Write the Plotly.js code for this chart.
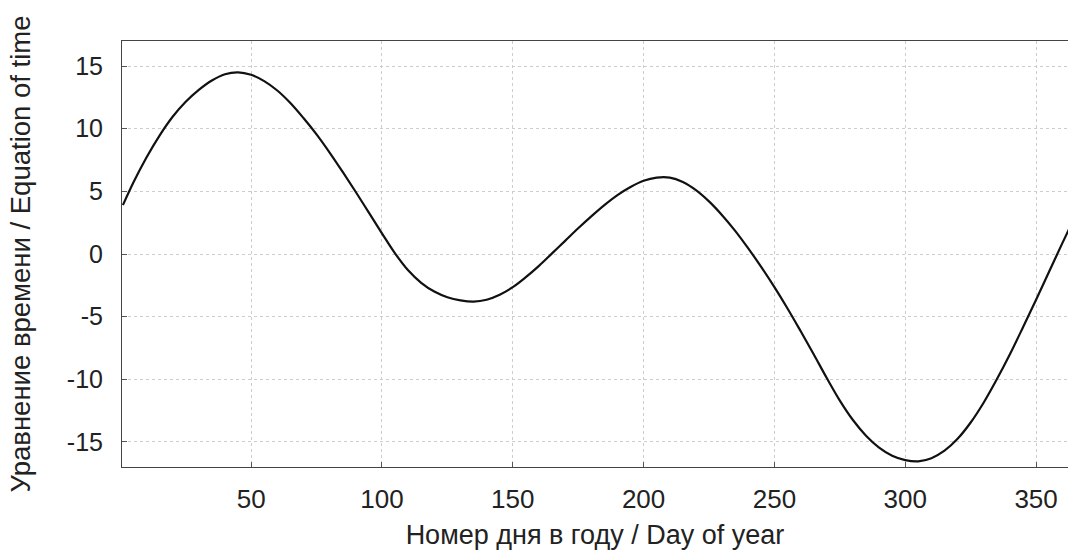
<!DOCTYPE html>
<html>
<head>
<meta charset="utf-8">
<script src="https://cdn.plot.ly/plotly-3.0.1.min.js"></script>
<style>
html,body{margin:0;padding:0;background:#fff;overflow:hidden;}
#chart{width:1068px;height:559px;}
</style>
</head>
<body>
<div id="chart"></div>
<script>
// Day of year
const days = [1, 5, 10, 15, 20, 25, 30, 35, 40, 45, 50, 55, 60, 65, 70, 75, 80, 85, 90,
  95, 100, 105, 110, 115, 120, 125, 130, 135, 140, 145, 150, 155, 160, 165, 170, 175, 180,
  185, 190, 195, 200, 205, 210, 215, 220, 225, 230, 235, 240, 245, 250, 255, 260, 265,
  270, 275, 280, 285, 290, 295, 300, 305, 310, 315, 320, 325, 330, 335, 340, 345, 350,
  355, 360, 365];
// Equation of time, minutes
const eqTime = [3.9, 5.7, 7.7, 9.45, 10.95, 12.15, 13.1, 13.85, 14.35, 14.5, 14.3, 13.8, 13.05,
  12.05, 10.85, 9.55, 8.1, 6.55, 4.95, 3.3, 1.65, 0.05, -1.3, -2.3, -3.0, -3.45, -3.7, -3.8,
  -3.65, -3.25, -2.65, -1.85, -0.95, 0.05, 1.05, 2.05, 3.0, 3.9, 4.7, 5.35, 5.85, 6.1, 6.1,
  5.75, 5.1, 4.2, 3.1, 1.85, 0.45, -1.05, -2.65, -4.35, -6.15, -8.0, -9.9, -11.7, -13.25,
  -14.5, -15.45, -16.1, -16.45, -16.55, -16.3, -15.7, -14.75, -13.45, -11.85, -10.0, -8.0,
  -5.85, -3.65, -1.4, 0.85, 3.05];
const xTicks = [50, 100, 150, 200, 250, 300, 350];
const yTicks = [-15, -10, -5, 0, 5, 10, 15];

const trace = {
  x: days, y: eqTime, type: 'scatter', mode: 'lines',
  line: {color: '#111', width: 2.2, shape: 'spline', smoothing: 1},
  hoverinfo: 'skip'
};

const layout = {
  width: 1068, height: 559,
  margin: {l: 122, r: 0, t: 41, b: 92},
  paper_bgcolor: '#ffffff', plot_bgcolor: '#ffffff',
  showlegend: false,
  font: {family: '"Liberation Sans", Arial, sans-serif', color: '#222'},
  xaxis: {
    range: [0.65, 362.2], tickvals: xTicks, ticktext: xTicks.map(String),
    ticks: 'inside', ticklen: 5, tickcolor: '#555', tickwidth: 1,
    showline: true, linecolor: '#444', linewidth: 1, mirror: true,
    showgrid: true, gridcolor: '#cdcdcd', griddash: 'dot', gridwidth: 1,
    zeroline: false,
    tickfont: {size: 26, color: '#222'},
    ticklabelstandoff: 9,
    title: {text: 'Номер дня в году / Day of year', font: {size: 27, color: '#222'}, standoff: 11}
  },
  yaxis: {
    range: [-17, 17], tickvals: yTicks, ticktext: yTicks.map(String),
    ticks: 'inside', ticklen: 5, tickcolor: '#555', tickwidth: 1,
    showline: true, linecolor: '#444', linewidth: 1, mirror: false,
    showgrid: true, gridcolor: '#cdcdcd', griddash: 'dot', gridwidth: 1,
    zeroline: false,
    tickfont: {size: 25, color: '#222'},
    ticklabelstandoff: 13,
    title: {text: 'Уравнение времени / Equation of time', font: {size: 27.5, color: '#222'}, standoff: 28}
  }
};

Plotly.newPlot('chart', [trace], layout, {displayModeBar: false, staticPlot: true});
</script>
</body>
</html>
